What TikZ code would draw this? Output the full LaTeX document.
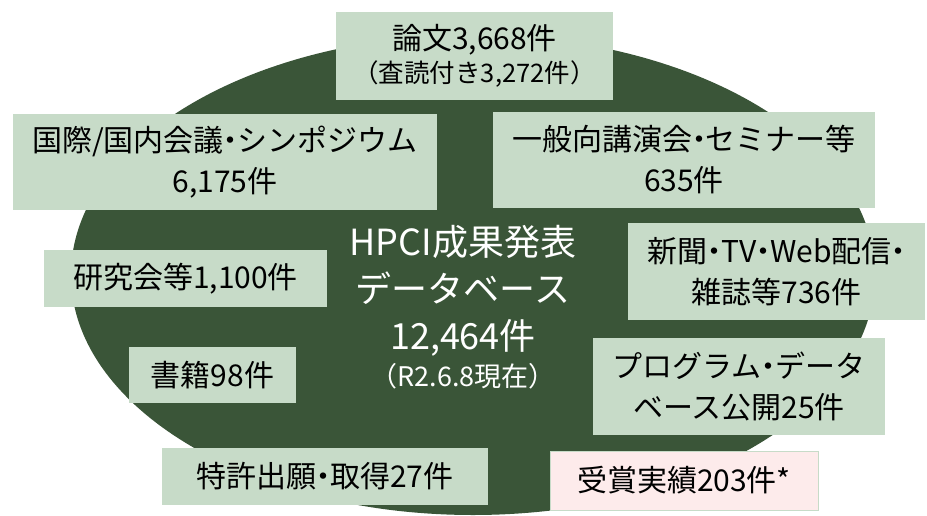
\documentclass[tikz,border=0pt]{standalone}
\usepackage{fontspec}
\setmainfont{Noto Sans CJK JP}
\definecolor{dbgreen}{HTML}{3A5538}
\definecolor{itemgreen}{HTML}{C7DBC8}
\definecolor{prizepink}{HTML}{FDEBEB}
\newcommand{\ndot}{\kern-0.27em・\kern-0.27em}
\begin{document}
\begin{tikzpicture}[x=1pt, y=-1pt]

      \tikzset{item/.style={fill=itemgreen, inner sep=0pt, align=center, font=\fontsize{30}{41}\selectfont}}
      \tikzset{prize/.style={item, fill=prizepink, draw=itemgreen, line width=1pt}}
      \useasboundingbox (0,0) rectangle (927,515);
%% Background
      	\fill[dbgreen] (473,275) ellipse [x radius=402pt, y radius=240pt];
%% Centre
      	\node[text=white, align=center, font=\fontsize{36}{47}\selectfont] (hpci) at (463,307)
      	  {HPCI成果発表\\データベース\\12,464件\\[-10pt]{\fontsize{27}{32}\selectfont （R2.6.8現在）}};
%% Items
      	\node[item, minimum width=277pt, minimum height=88pt] (ronbun) at (474.5,56)
      	  {論文3,668件\\[-8pt]{\fontsize{25.5}{30}\selectfont （査読付き3,272件）}};
      	\node[item, minimum width=424pt, minimum height=96pt] (kokusai) at (225,162) {国際/国内会議\ndot シンポジウム\\6,175件};
      	\node[item, minimum width=382pt, minimum height=96pt] (ippan) at (684,160) {一般向講演会\ndot セミナー等\\635件};
      	\node[item, minimum width=283pt, minimum height=57pt] (kenkyu) at (185.5,278.5) {研究会等1,100件};
      	\node[item, minimum width=167pt, minimum height=56pt] (shoseki) at (212.5,375) {書籍98件};
      	\node[item, minimum width=326pt, minimum height=57pt] (tokkyo) at (325,476.5) {特許出願\ndot 取得27件};
      	\node[item, minimum width=297pt, minimum height=97pt] (shinbun) at (776.5,271.5) {新聞\ndot TV\ndot Web配信\ndot\\雑誌等736件};
      	\node[item, minimum width=292pt, minimum height=97pt] (program) at (739,386.5) {プログラム\ndot データ\\ベース公開25件};
      	\node[prize, minimum width=268pt, minimum height=59pt] (jusho) at (684,480.5) {受賞実績203件*};

	\end{tikzpicture}
\end{document}
